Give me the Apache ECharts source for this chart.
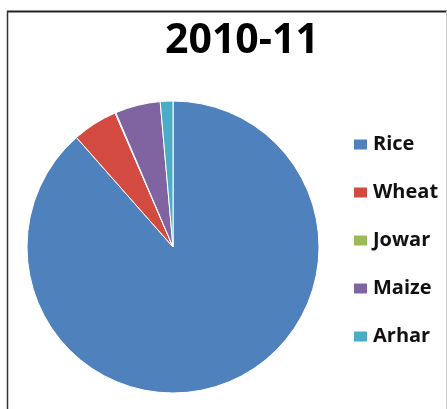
<!DOCTYPE html>
<html>
<head>
<meta charset="utf-8">
<script src="https://cdn.jsdelivr.net/npm/echarts@6/dist/echarts.min.js"></script>
<style>html,body{margin:0;padding:0;background:#fff}#c{width:447px;height:409px}</style>
</head>
<body>
<div id="c"></div>
<script>
var titleText = '2010-11';
var categories = ['Rice', 'Wheat', 'Jowar', 'Maize', 'Arhar'];
var shares = [88.5, 5.0, 0.1, 5.0, 1.4];
var colors = ['#4F81BD', '#D24A40', '#9BBB59', '#8064A2', '#4BACC6'];

var chart = echarts.init(document.getElementById('c'), null, {renderer: 'canvas'});
chart.setOption({
  animation: false,
  backgroundColor: '#fff',
  color: colors,
  title: {
    text: titleText,
    left: 165,
    top: 18,
    padding: 0,
    textStyle: {fontFamily: 'Open Sans', fontWeight: 'bold', fontSize: 41, color: '#000', lineHeight: 46}
  },
  legend: {
    orient: 'vertical',
    left: 352,
    top: 134,
    padding: 0,
    itemWidth: 15,
    itemHeight: 12,
    itemGap: 27,
    icon: 'rect',
    data: categories,
    textStyle: {fontFamily: 'Open Sans', fontWeight: 'bold', fontSize: 20, color: '#111', lineHeight: 21}
  },
  graphic: [
    {type: 'line', shape: {x1: 7, y1: 11.5, x2: 447, y2: 11.5}, style: {stroke: '#222', lineWidth: 2}},
    {type: 'line', shape: {x1: 7.5, y1: 11, x2: 7.5, y2: 409}, style: {stroke: '#333', lineWidth: 1.5}},
    {type: 'line', shape: {x1: 446.5, y1: 11, x2: 446.5, y2: 409}, style: {stroke: '#cfcfcf', lineWidth: 1}}
  ],
  series: [{
    type: 'pie',
    center: [173, 247],
    radius: 146,
    startAngle: 90,
    clockwise: true,
    label: {show: false},
    labelLine: {show: false},
    itemStyle: {borderColor: '#fff', borderWidth: 1},
    emphasis: {disabled: true},
    data: categories.map(function (c, i) { return {name: c, value: shares[i]}; })
  }]
});
</script>
</body>
</html>
